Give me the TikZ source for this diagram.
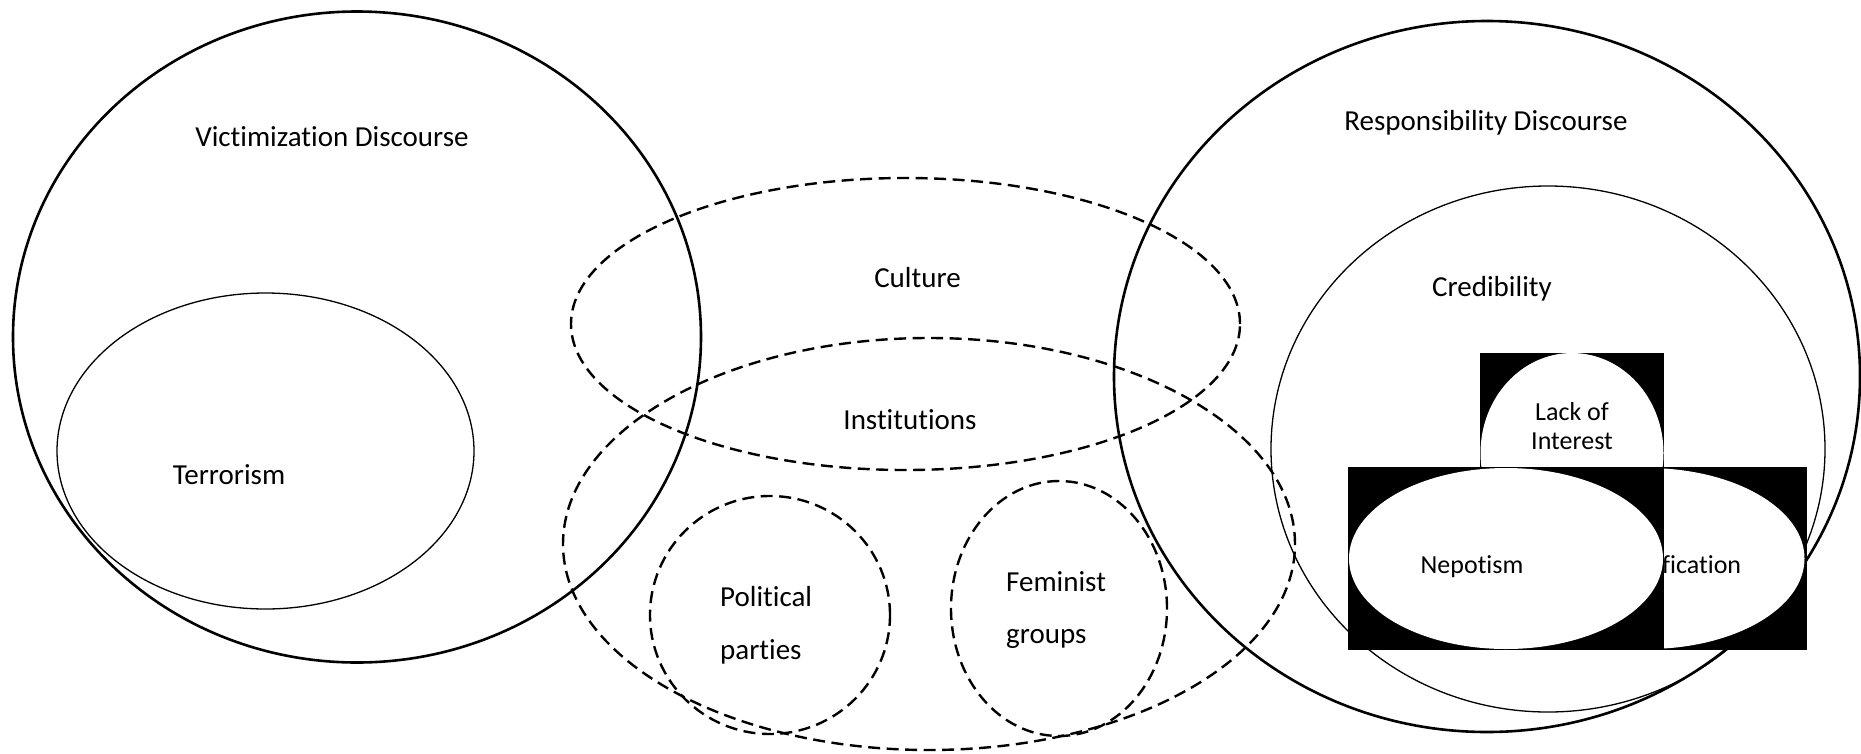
\documentclass[tikz,border=0pt]{standalone}
\usepackage{fontspec}
\setmainfont{Carlito}[Ligatures=NoCommon]
\usetikzlibrary{shapes.geometric}
\begin{document}
\begin{tikzpicture}[x=1pt,y=-1pt,
  oval/.style={draw, ellipse, inner sep=0pt, outer sep=0pt},
  ringthick/.style={oval, line width=2.6pt},
  ringthin/.style={oval, line width=1.3pt},
  dashring/.style={oval, line width=2.4pt, dash pattern=on 12pt off 6.5pt},
  txtbig/.style={font=\fontsize{29}{35}\selectfont, inner sep=0pt, anchor=base},
  txtleft/.style={txtbig, anchor=base west},
  txtbox/.style={font=\fontsize{26}{31}\selectfont, inner sep=0pt, anchor=base},
  blackbox/.style={rectangle, fill=black, draw=none, inner sep=0pt, outer sep=0pt},
  whiteoval/.style={ellipse, fill=white, draw=none, inner sep=0pt, outer sep=0pt}
]
% canvas
\fill[white] (0,0) rectangle (1861,753);
\useasboundingbox (0,0) rectangle (1861,753);

% the two discourses and their sub-areas
\node[ringthick, minimum width=688pt, minimum height=651pt] (vict) at (357,337) {};
\node[ringthin,  minimum width=417pt, minimum height=316pt] (terr) at (265.5,451) {};
\node[ringthick, minimum width=746pt, minimum height=711pt] (resp) at (1487,376.5) {};
\node[ringthin,  minimum width=554pt, minimum height=526pt] (cred) at (1548,449) {};

% shared dashed areas
\node[dashring, minimum width=669pt, minimum height=292pt] (cult) at (905.5,324) {};
\node[dashring, minimum width=732pt, minimum height=412pt] (inst) at (929,544) {};
\node[dashring, minimum width=240pt, minimum height=238pt] (pol)  at (770,615) {};
\node[dashring, minimum width=216pt, minimum height=255pt] (fem)  at (1059,608.5) {};

% labels
\node[txtbig] (victlbl) at (332,146) {Victimization Discourse};
\node[txtbig] (terrlbl) at (229,484) {Terrorism};
\node[txtbig] (cultlbl) at (917.5,287) {Culture};
\node[txtbig] (instlbl) at (910,429) {Institutions};
\node[txtleft] (pollbla) at (720,606) {Political};
\node[txtleft] (pollblb) at (720,659) {parties};
\node[txtleft] (femlbla) at (1006,591) {Feminist};
\node[txtleft] (femlblb) at (1006,643) {groups};
\node[txtbig] (resplbl) at (1486,130) {Responsibility Discourse};
\node[txtbig] (credlbl) at (1492,296) {Credibility};

% black boxes with white ovals
\node[blackbox, minimum width=184pt, minimum height=114pt] (lackbox) at (1572,410) {};
\node[whiteoval, minimum width=183pt, minimum height=200pt] (lackoval) at (1572,453) {};
\node[txtbox] (lacklbla) at (1572,420) {Lack of};
\node[txtbox] (lacklblb) at (1572,449) {Interest};

\node[blackbox, minimum width=318pt, minimum height=183pt] (justbox) at (1648,558.5) {};
\node[whiteoval, minimum width=315pt, minimum height=181pt] (justoval) at (1647,558.5) {};
\node[txtbox, anchor=base west] (justlbl) at (1662,573) {fication};

\node[blackbox, minimum width=316pt, minimum height=183pt] (nepbox) at (1506,558.5) {};
\node[whiteoval, minimum width=314pt, minimum height=181pt] (nepoval) at (1506,558.5) {};
\node[txtbox] (neplbl) at (1472,573) {Nepotism};
\end{tikzpicture}
\end{document}
